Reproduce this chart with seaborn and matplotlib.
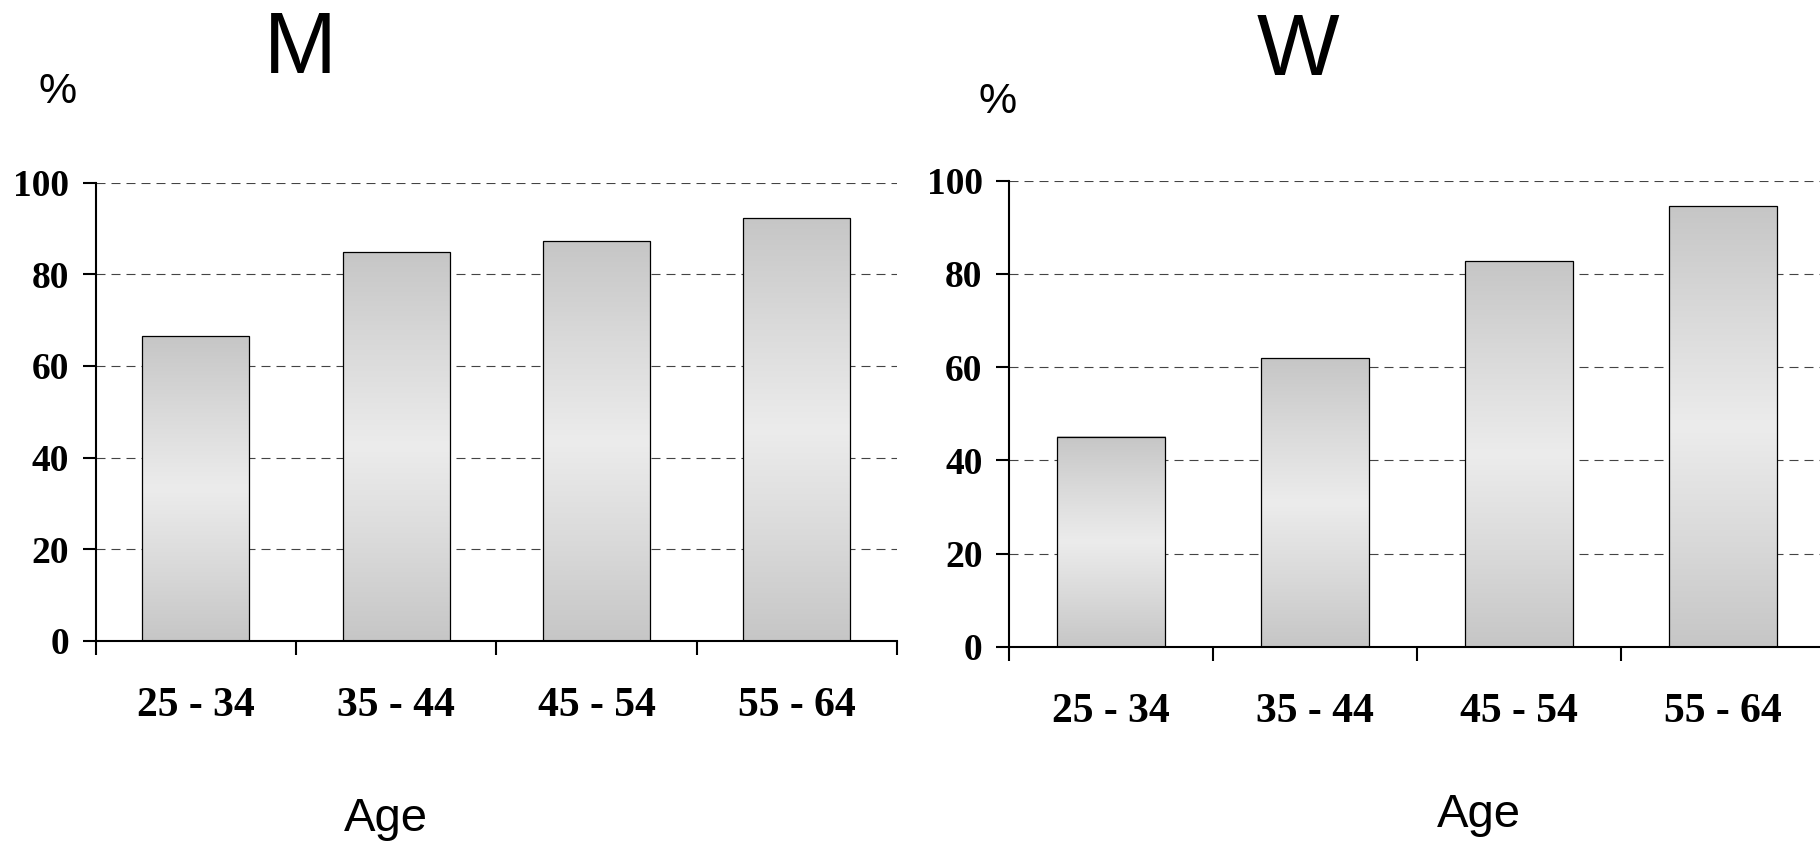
import numpy as np
import pandas as pd
import matplotlib
matplotlib.use("Agg")
import matplotlib.pyplot as plt
from matplotlib.colors import LinearSegmentedColormap
import seaborn as sns

# Share of each age band (%), men and women
age_groups = ["25 - 34", "35 - 44", "45 - 54", "55 - 64"]
men_values = [66.5, 84.8, 87.3, 92.3]
women_values = [45.1, 62.0, 82.8, 94.6]
y_ticks = [0, 20, 40, 60, 80, 100]

sns.set_theme(style="white")
plt.rcParams["font.family"] = ["Liberation Sans", "DejaVu Sans"]
plt.rcParams["text.color"] = "black"
plt.rcParams["xtick.color"] = "black"
plt.rcParams["ytick.color"] = "black"
plt.rcParams["xtick.labelcolor"] = "black"
plt.rcParams["ytick.labelcolor"] = "black"

DPI = 100
fig = plt.figure(figsize=(18.2, 8.42), dpi=DPI)
W, H = 1820, 842


def px_axes(x0, x1, y_top, y_bottom):
    return fig.add_axes([x0 / W, 1 - y_bottom / H, (x1 - x0) / W, (y_bottom - y_top) / H])


ax_m = px_axes(95.5, 897, 182.7, 640.7)
ax_w = px_axes(1009, 1825, 180.7, 646.7)

grad_cmap = LinearSegmentedColormap.from_list(
    "bar_grad", ["#c6c6c6", "#dadada", "#ececec", "#dadada", "#c6c6c6"])
tick_font = dict(family=["Liberation Serif", "DejaVu Serif"], weight="bold",
                 color="black")


def draw_panel(ax, values):
    df = pd.DataFrame({"age": age_groups, "pct": values})
    sns.barplot(data=df, x="age", y="pct", ax=ax, width=0.534,
                color="#d9d9d9", edgecolor="black", linewidth=0.9,
                saturation=1)
    grad = np.linspace(0, 1, 256).reshape(-1, 1)
    for p in ax.patches:
        x, w, h = p.get_x(), p.get_width(), p.get_height()
        ax.imshow(grad, cmap=grad_cmap, aspect="auto", origin="lower",
                  extent=[x, x + w, 0, h], zorder=1.5,
                  interpolation="bilinear")
        p.set_facecolor("none")
        p.set_zorder(2)

    ax.set_xlim(-0.5, len(age_groups) - 0.5)
    ax.set_ylim(0, 100)
    ax.set_yticks(y_ticks)
    ax.set_yticklabels([str(v) for v in y_ticks], fontsize=27, **tick_font)

    ax.set_xticks(range(len(age_groups)))
    ax.set_xticklabels(age_groups, fontsize=30, **tick_font)
    ax.set_xticks(np.arange(-0.5, len(age_groups)), minor=True)
    ax.tick_params(axis="x", which="major", length=0, pad=33, bottom=True)
    ax.tick_params(axis="x", which="minor", length=10, width=1.5,
                   color="black", direction="out", bottom=True)
    ax.tick_params(axis="y", length=9.5, width=1.5, color="black",
                   direction="out", pad=9.5, left=True)

    ax.set_xlabel("")
    ax.set_ylabel("")
    for side in ("top", "right"):
        ax.spines[side].set_visible(False)
    for side in ("left", "bottom"):
        ax.spines[side].set_color("black")
        ax.spines[side].set_linewidth(1.5)
    ax.set_axisbelow(True)
    ax.yaxis.grid(True, color="#444444", linewidth=0.8,
                  linestyle=(0, (8.1, 5.4)))
    ax.xaxis.grid(False)
    ax.set_facecolor("white")


draw_panel(ax_m, men_values)
draw_panel(ax_w, women_values)

# Panel titles and axis captions
fig.text(300 / W, 1 - 72.7 / H, "M", fontsize=63, ha="center", va="baseline")
fig.text(1298 / W, 1 - 75 / H, "W", fontsize=63, ha="center", va="baseline")
fig.text(39 / W, 1 - 103 / H, "%", fontsize=31, ha="left", va="baseline")
fig.text(979 / W, 1 - 113 / H, "%", fontsize=31, ha="left", va="baseline")
fig.text(386 / W, 1 - 831 / H, "Age", fontsize=34, ha="center", va="baseline")
fig.text(1479 / W, 1 - 827 / H, "Age", fontsize=34, ha="center", va="baseline")

fig.savefig("out.png", dpi=DPI, facecolor="white")
